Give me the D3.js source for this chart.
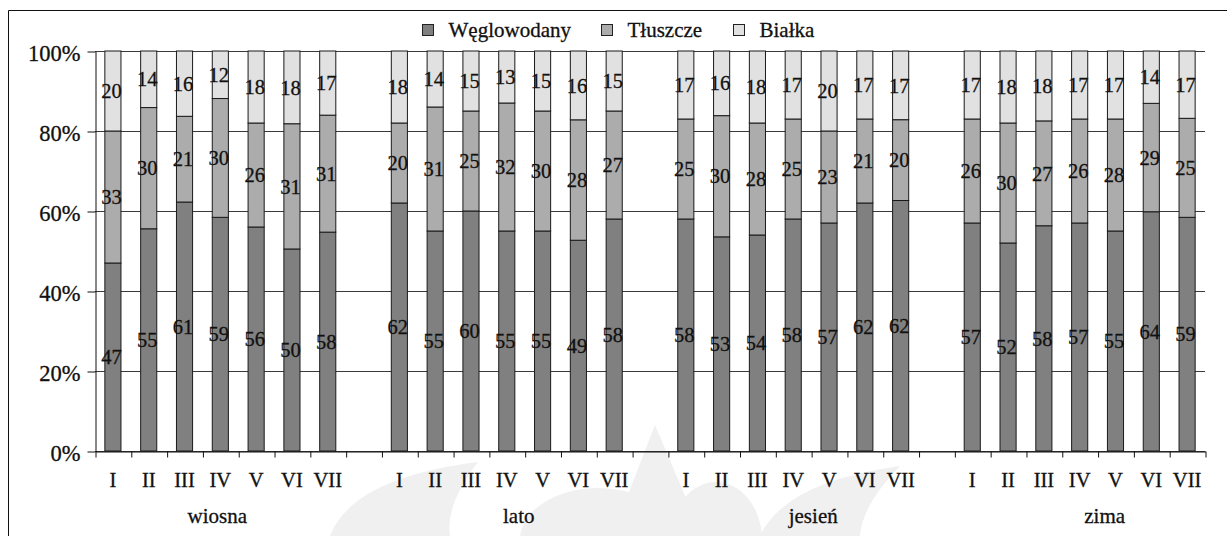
<!DOCTYPE html>
<html>
<head>
<meta charset="utf-8">
<script src="https://cdn.jsdelivr.net/npm/d3@7"></script>
<style>
  body { margin: 0; background: #fff; }
  svg { display: block; }
  svg text { font-family: "Liberation Serif", "DejaVu Serif", "Tinos", serif;
             stroke: #111; stroke-width: 0.3px; }
</style>
</head>
<body>
<svg id="chart" width="1227" height="536"></svg>
<script>
// Share of energy from macronutrients (%), by season and by meal group I–VII
const seasons = ["wiosna", "lato", "jesień", "zima"];
const months = ["I", "II", "III", "IV", "V", "VI", "VII"];
const seriesNames = ["Węglowodany", "Tłuszcze", "Białka"];

const weglowodany = [47, 55, 61, 59, 56, 50, 58,  62, 55, 60, 55, 55, 49, 58,
                     58, 53, 54, 58, 57, 62, 62,  57, 52, 58, 57, 55, 64, 59];
const tluszcze    = [33, 30, 21, 30, 26, 31, 31,  20, 31, 25, 32, 30, 28, 27,
                     25, 30, 28, 25, 23, 21, 20,  26, 30, 27, 26, 28, 29, 25];
const bialka      = [20, 14, 16, 12, 18, 18, 17,  18, 14, 15, 13, 15, 16, 15,
                     17, 16, 18, 17, 20, 17, 17,  17, 18, 18, 17, 17, 14, 17];

const yTicks = [0, 0.2, 0.4, 0.6, 0.8, 1];

// ---- layout & style ----
const W = 1227, H = 536;
const plot = { left: 95, right: 1205, top: 51, bottom: 451 };
const colors = ["#808080", "#acacac", "#e1e1e1"];
const seasonLabelShift = [-3, 12, 20, 25];
const FONT = '"Liberation Serif", "DejaVu Serif", "Tinos", serif';

const svg = d3.select("#chart");

// faint background emblem
const wm = svg.append("g").attr("fill", "#f0f0f0");
wm.append("path").attr("d", "M330,536 Q352,478 478,462 Q445,505 450,536 Z");
wm.append("ellipse").attr("cx", 598).attr("cy", 540).attr("rx", 78).attr("ry", 52);
wm.append("path").attr("d", "M612,536 L655,425 L702,536 Z");
wm.append("ellipse").attr("cx", 716).attr("cy", 540).attr("rx", 46).attr("ry", 58);
wm.append("path").attr("d", "M760,536 Q785,482 900,466 Q862,505 860,536 Z");

// outer frame (top and left edges)
svg.append("path")
  .attr("d", `M8.5,536 V10.5 H${W}`)
  .attr("fill", "none").attr("stroke", "#111").attr("stroke-width", 1);

// category slots: 7 groups per season, with an empty slot between seasons
const rows = [];
const slots = [];
seasons.forEach((s, si) => {
  months.forEach((m, mi) => {
    const i = si * months.length + mi;
    const key = s + "|" + m;
    slots.push(key);
    rows.push({ key, season: s, month: m,
      "Węglowodany": weglowodany[i], "Tłuszcze": tluszcze[i], "Białka": bialka[i] });
  });
  if (si < seasons.length - 1) slots.push("gap" + si);
});

const x = d3.scaleBand().domain(slots).range([plot.left, plot.right])
  .paddingInner(0.55).paddingOuter(0.275);
const xEdges = d3.scaleLinear().domain([0, slots.length]).range([plot.left, plot.right]);
const y = d3.scaleLinear().domain([0, 1]).range([plot.bottom, plot.top]);

// gridlines
svg.append("g").selectAll("line").data(yTicks).join("line")
  .attr("x1", plot.left).attr("x2", plot.right)
  .attr("y1", d => Math.round(y(d)) + 0.5).attr("y2", d => Math.round(y(d)) + 0.5)
  .attr("stroke", "#3a3a3a").attr("stroke-width", 1);

// y axis
const yAxis = svg.append("g")
  .attr("transform", `translate(${plot.left + 0.5},0.5)`)
  .call(d3.axisLeft(y).tickValues(yTicks).tickFormat(d3.format(".0%"))
    .tickSize(8).tickSizeOuter(0).tickPadding(7));
yAxis.attr("font-family", FONT);
yAxis.select(".domain").attr("stroke", "#111");
yAxis.selectAll(".tick line").attr("stroke", "#111");
yAxis.selectAll("text").attr("font-size", 22.5)
  .attr("fill", "#111").attr("dy", "0.42em");

// x axis: ticks between category slots
const xAxis = svg.append("g")
  .attr("transform", `translate(0.5,${plot.bottom + 0.5})`)
  .call(d3.axisBottom(xEdges).tickValues(d3.range(slots.length + 1))
    .tickFormat("").tickSize(6).tickSizeOuter(0));
xAxis.select(".domain").attr("stroke", "#111");
xAxis.selectAll(".tick line").attr("stroke", "#111");

// stacked 100% bars
const stack = d3.stack().keys(seriesNames).offset(d3.stackOffsetExpand);
const layers = stack(rows);

const layerG = svg.append("g").selectAll("g").data(layers).join("g")
  .attr("fill", (d, i) => colors[i]);

layerG.selectAll("rect").data(d => d).join("rect")
  .attr("x", d => x(d.data.key))
  .attr("width", x.bandwidth())
  .attr("y", d => y(d[1]))
  .attr("height", d => y(d[0]) - y(d[1]))
  .attr("stroke", "#1a1a1a").attr("stroke-width", 1);

// value labels centred in each segment
const labelG = svg.append("g").attr("font-size", 20.5).attr("fill", "#111")
  .attr("font-family", FONT).attr("text-anchor", "middle");
layers.forEach(layer => {
  labelG.selectAll(null).data(layer).join("text")
    .attr("x", d => x(d.data.key) + x.bandwidth() / 2 - 1.5)
    .attr("y", d => (y(d[0]) + y(d[1])) / 2)
    .attr("dy", "0.35em")
    .text(d => d.data[layer.key]);
});

// category labels
svg.append("g").attr("font-size", 20.5).attr("fill", "#111").attr("text-anchor", "middle")
  .attr("font-family", FONT)
  .selectAll("text").data(rows).join("text")
  .attr("x", d => x(d.key) + x.bandwidth() / 2)
  .attr("y", 487)
  .text(d => d.month);

// season labels
svg.append("g").attr("font-size", 21).attr("fill", "#111").attr("text-anchor", "middle")
  .attr("font-family", FONT)
  .selectAll("text").data(seasons).join("text")
  .attr("x", (s, i) => {
    const a = x(s + "|" + months[0]);
    const b = x(s + "|" + months[months.length - 1]) + x.bandwidth();
    return (a + b) / 2 + seasonLabelShift[i];
  })
  .attr("y", 523)
  .text(s => s);

// legend
const legend = svg.append("g").attr("font-size", 21).attr("fill", "#111")
  .attr("font-family", FONT);
const items = legend.selectAll("g").data(seriesNames).join("g");
items.append("rect").attr("width", 11).attr("height", 11).attr("y", 24.5)
  .attr("fill", (d, i) => colors[i]).attr("stroke", "#222").attr("stroke-width", 1);
items.append("text").attr("x", 26).attr("y", 36.5).text(d => d);
const widths = [];
items.each(function () {
  widths.push(26 + this.querySelector("text").getComputedTextLength());
});
const gap = 31;
const total = d3.sum(widths) + gap * (widths.length - 1);
let cx = 617.5 - total / 2;
items.attr("transform", (d, i) => {
  const t = `translate(${Math.round(cx) + 0.5},0)`;
  cx += widths[i] + gap;
  return t;
});
</script>
</body>
</html>
